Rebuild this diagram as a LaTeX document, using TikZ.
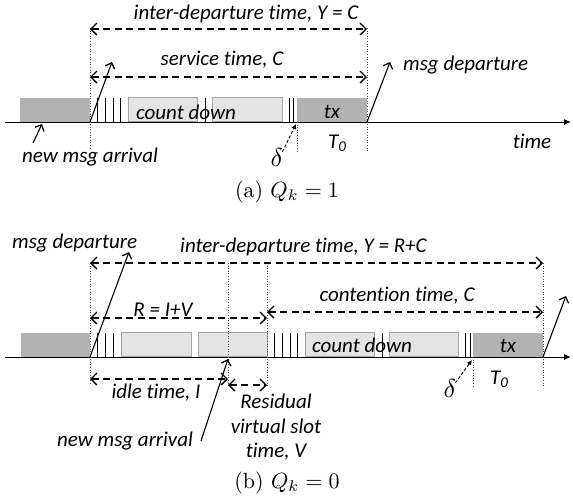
\documentclass[tikz,border=0pt]{standalone}
\usepackage{fontspec}
\newfontfamily\carl[Ligatures=NoCommon]{Carlito}
\usetikzlibrary{arrows.meta}
\definecolor{darkbox}{RGB}{178,178,178}
\definecolor{lightbox}{RGB}{228,228,228}
\definecolor{boxline}{RGB}{165,165,165}
\newcommand\lblf{\carl\itshape\fontsize{21}{24}\selectfont}
\newcommand\Tnull{T\raisebox{-0.35ex}{\fontsize{15}{15}\selectfont 0}}
\tikzset{
  lbl/.style={font=\lblf, inner sep=0pt},
  captext/.style={font=\fontsize{10}{12}\selectfont, inner sep=0pt},
  dlt/.style={font=\fontsize{10}{12}\selectfont, inner sep=0pt},
  slotbox/.style={draw=boxline, fill=lightbox, line width=0.8pt, minimum height=24pt, inner sep=0pt, anchor=south west},
  txbox/.style={fill=darkbox, minimum height=24pt, inner sep=0pt, anchor=south west},
  tickline/.style={line width=0.8pt},
  guide/.style={line width=0.6pt, dotted, black!70},
  span/.style={line width=1.3pt, dash pattern=on 7pt off 4.5pt,
    {Straight Barb[length=6pt,width=12pt,line width=1.3pt]}-{Straight Barb[length=6pt,width=12pt,line width=1.3pt]}},
  evt/.style={line width=1.1pt, -{Straight Barb[length=5pt,width=10pt,line width=1.3pt]}},
  dltarrow/.style={line width=0.9pt, dash pattern=on 3pt off 2pt, -{Latex[length=5pt,width=5pt]}},
  timeaxis/.style={line width=1pt, -{Latex[length=7pt,width=6pt]}},
}
\begin{document}
\begin{tikzpicture}[x=1pt,y=-1pt]
\useasboundingbox (0,0) rectangle (573,499);

% ================= (a) =================
\coordinate (aL) at (5,122);
\coordinate (aR) at (571,122);
\node[txbox, minimum width=70pt] (aprev) at (20,122) {};
\node[slotbox, minimum width=69pt] (acd1) at (128,122) {};
\node[slotbox, minimum width=70pt] (acd2) at (212,122) {};
\node[txbox, minimum width=70pt] (atx) at (297,122) {};
\draw[timeaxis] (aL) -- (aR);
\foreach \x in {97,105,113,120,205,289,293} \draw[tickline] (\x,98) -- (\x,122);
\node[lbl, anchor=base] (acdt) at (186,119) {count down};
\node[lbl, anchor=base] (atxt) at (332,118) {tx};

\coordinate (ag1t) at (90,28);  \coordinate (ag1b) at (90,150);
\coordinate (ag2t) at (297,122); \coordinate (ag2b) at (297,152);
\coordinate (ag3t) at (367,28); \coordinate (ag3b) at (367,152);
\draw[guide] (ag1t) -- (ag1b);
\draw[guide] (ag2t) -- (ag2b);
\draw[guide] (ag3t) -- (ag3b);

\coordinate (aY1) at (90,29);  \coordinate (aY2) at (367,29);
\coordinate (aC1) at (90,77);  \coordinate (aC2) at (367,77);
\draw[span] (aY1) -- (aY2);
\draw[span] (aC1) -- (aC2);
\node[lbl, anchor=base] (aYt) at (246,19) {inter-departure time, Y = C};
\node[lbl, anchor=base] (aCt) at (222,65) {service time, C};

\coordinate (apd0) at (90,122); \coordinate (apd1) at (112,62);
\draw[evt] (apd0) -- (apd1);
\coordinate (ad0) at (367,122); \coordinate (ad1) at (390,62);
\draw[evt] (ad0) -- (ad1);
\node[lbl, anchor=base west] (adt) at (403,70) {msg departure};
\coordinate (aa0) at (33,143); \coordinate (aa1) at (42,124);
\draw[evt] (aa0) -- (aa1);
\node[lbl, anchor=base west] (aat) at (22,162) {new msg arrival};
\node[lbl, anchor=base] (atime) at (532,148) {time};
\node[lbl, anchor=base west] (aT0) at (328,148) {\Tnull};
\node[dlt, anchor=base] (adelta) at (277,166) {\scalebox{2.6}{$\delta$}};
\coordinate (ad2) at (296,124);
\draw[dltarrow] (adelta.north east) ++(-1,4) -- (ad2);
\node[captext, anchor=base] (acap) at (287,197) {\scalebox{2.2}{(a) $Q_k=1$}};

% ================= (b) =================
\coordinate (bL) at (5,357);
\coordinate (bR) at (571,357);
\node[txbox, minimum width=69pt] (bprev) at (21,357) {};
\node[slotbox, minimum width=70pt] (bs1) at (121,357) {};
\node[slotbox, minimum width=69pt] (bs2) at (198,357) {};
\node[slotbox, minimum width=69pt] (bcd1) at (305,357) {};
\node[slotbox, minimum width=69pt] (bcd2) at (389,357) {};
\node[txbox, minimum width=70pt] (btx) at (473,357) {};
\draw[timeaxis] (bL) -- (bR);
\foreach \x in {97,105,113,274,282,290,297,382,465,470} \draw[tickline] (\x,333) -- (\x,357);
\node[lbl, anchor=base] (bcdt) at (362,352) {count down};
\node[lbl, anchor=base] (btxt) at (508,352) {tx};

\coordinate (bg1t) at (90,263);  \coordinate (bg1b) at (90,384);
\coordinate (bg2t) at (228,263); \coordinate (bg2b) at (228,387);
\coordinate (bg3t) at (267,263); \coordinate (bg3b) at (267,387);
\coordinate (bg4t) at (473,357); \coordinate (bg4b) at (473,386);
\coordinate (bg5t) at (543,263); \coordinate (bg5b) at (543,386);
\draw[guide] (bg1t) -- (bg1b);
\draw[guide] (bg2t) -- (bg2b);
\draw[guide] (bg3t) -- (bg3b);
\draw[guide] (bg4t) -- (bg4b);
\draw[guide] (bg5t) -- (bg5b);

\coordinate (bY1) at (90,263);  \coordinate (bY2) at (543,263);
\coordinate (bR1) at (90,318);  \coordinate (bR2) at (267,318);
\coordinate (bC1) at (267,312); \coordinate (bC2) at (543,312);
\coordinate (bI1) at (90,379);  \coordinate (bI2) at (228,379);
\coordinate (bV1) at (228,385); \coordinate (bV2) at (267,385);
\draw[span] (bY1) -- (bY2);
\draw[span] (bR1) -- (bR2);
\draw[span] (bC1) -- (bC2);
\draw[span] (bI1) -- (bI2);
\draw[span] (bV1) -- (bV2);
\node[lbl, anchor=base west] (bYt) at (180,252) {inter-departure time, Y = R+C};
\node[lbl, anchor=base] (bRt) at (163,316) {R = I+V};
\node[lbl, anchor=base] (bCt) at (397,301) {contention time, C};
\node[lbl, anchor=base] (bIt) at (156,398) {idle time, I};
\node[lbl, anchor=base] (bVt1) at (276,408) {Residual};
\node[lbl, anchor=base] (bVt2) at (276,433) {virtual slot};
\node[lbl, anchor=base] (bVt3) at (276,457) {time, V};

\coordinate (bpd0) at (90,357); \coordinate (bpd1) at (129,252);
\draw[evt] (bpd0) -- (bpd1);
\node[lbl, anchor=base west] (bpdt) at (12,248) {msg departure};
\coordinate (bd0) at (543,357); \coordinate (bd1) at (566,296);
\draw[evt] (bd0) -- (bd1);
\coordinate (ba0) at (201,441); \coordinate (ba1) at (228,359);
\draw[evt] (ba0) -- (ba1);
\node[lbl, anchor=base west] (bat) at (57,446) {new msg arrival};
\node[lbl, anchor=base west] (bT0) at (490,384) {\Tnull};
\node[dlt, anchor=base] (bdelta) at (450,397) {\scalebox{2.6}{$\delta$}};
\coordinate (bd2) at (472,360);
\draw[dltarrow] (bdelta.north east) ++(-1,4) -- (bd2);
\node[captext, anchor=base] (bcap) at (287,488) {\scalebox{2.2}{(b) $Q_k=0$}};
\end{tikzpicture}
\end{document}
